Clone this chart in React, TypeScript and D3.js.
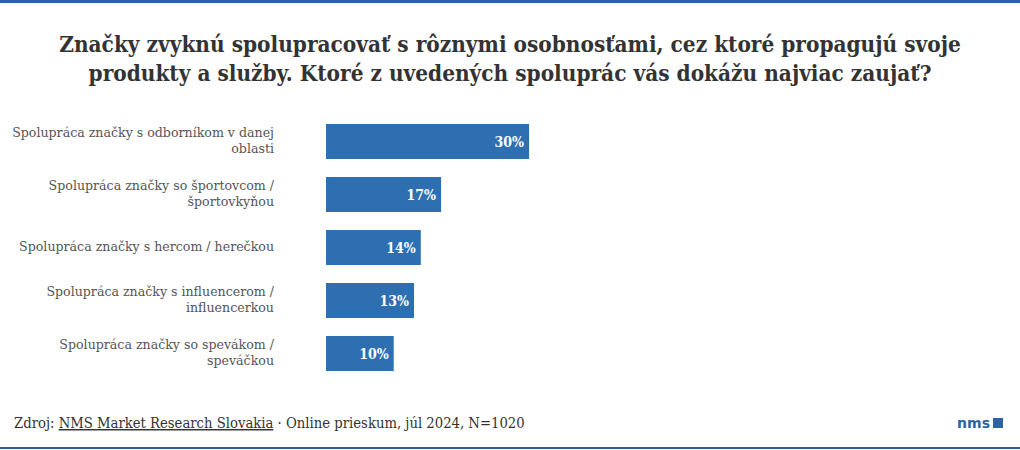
import React from "react";
import * as d3 from "d3";

const categories: string[][] = [
  ["Spolupráca značky s odborníkom v danej", "oblasti"],
  ["Spolupráca značky so športovcom /", "športovkyňou"],
  ["Spolupráca značky s hercom / herečkou"],
  ["Spolupráca značky s influencerom /", "influencerkou"],
  ["Spolupráca značky so spevákom /", "speváčkou"],
];
const values: number[] = [30, 17, 14, 13, 10];
const titleLines: string[] = [
  "Značky zvyknú spolupracovať s rôznymi osobnosťami, cez ktoré propagujú svoje",
  "produkty a služby. Ktoré z uvedených spoluprác vás dokážu najviac zaujať?",
];

const W = 1020;
const H = 450;

export default function App() {
  const x = d3.scaleLinear().domain([0, 100]).range([326, 1003]);
  const y = d3
    .scaleBand<number>()
    .domain(d3.range(values.length))
    .range([115, 380])
    .paddingInner(0.34)
    .paddingOuter(0.17);
  const labelFont = "'DejaVu Serif', serif";
  const condFont = "'DejaVu Serif Condensed', 'DejaVu Serif', serif";
  return (
    <svg width={W} height={H} style={{ position: "absolute", left: 0, top: 0, background: "#fff" }}>
      <rect x={0} y={0} width={W} height={3} fill="#2a63a8" />
      <g fontFamily={condFont} fontWeight="bold" fontSize={22.4} fill="#333" textAnchor="middle">
        {titleLines.map((t, i) => (
          <text key={i} x={W / 2} y={52 + i * 29}>
            {t}
          </text>
        ))}
      </g>
      {values.map((v, i) => {
        const y0 = y(i)!;
        const bw = y.bandwidth();
        const lines = categories[i];
        const lh = 15.5;
        const cy = y0 + bw / 2;
        const firstBase = cy - ((lines.length - 1) * lh) / 2 + 3.5;
        return (
          <g key={i}>
            <rect x={x(0)} y={y0} width={x(v) - x(0)} height={bw} fill="#2e6fb1" />
            <text
              x={x(v) - 5}
              y={cy + 5}
              textAnchor="end"
              fill="#fff"
              fontFamily={condFont}
              fontWeight="bold"
              fontSize={14}
            >
              {v}%
            </text>
            {lines.map((l, j) => (
              <text
                key={j}
                x={274}
                y={firstBase + j * lh}
                textAnchor="end"
                fill="#555"
                fontFamily={labelFont}
                fontSize={12.6}
              >
                {l}
              </text>
            ))}
          </g>
        );
      })}
      <text x={14} y={428} fontFamily={condFont} fontSize={14.7} fill="#333">
        <tspan>Zdroj: </tspan>
        <tspan textDecoration="underline">NMS Market Research Slovakia</tspan>
        <tspan> · Online prieskum, júl 2024, N=1020</tspan>
      </text>
      <text x={990} y={428} textAnchor="end" fontFamily="'DejaVu Sans', sans-serif" fontWeight="bold" fontSize={14} fill="#2a63a8">
        nms
      </text>
      <rect x={993} y={418} width={10} height={10} fill="#2a63a8" />
      <rect x={0} y={447} width={W} height={2} fill="#2d5f8e" />
    </svg>
  );
}
